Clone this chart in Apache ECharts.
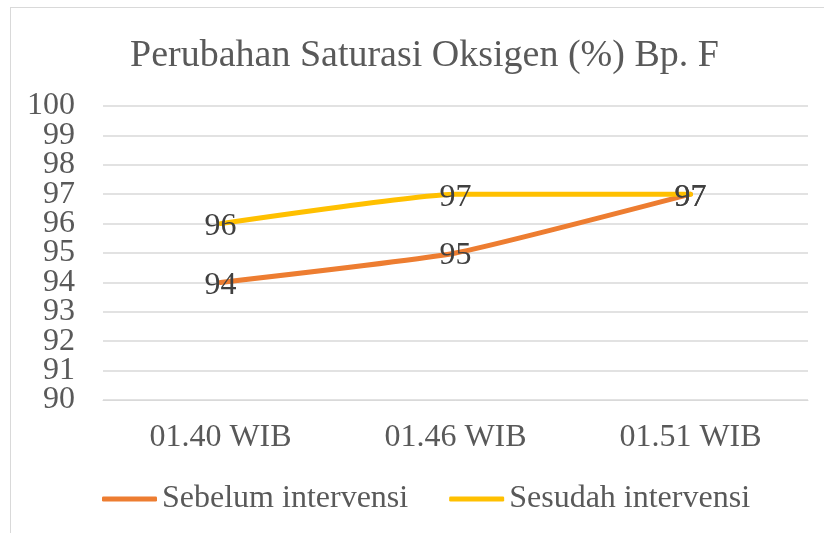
<!DOCTYPE html>
<html lang="en">
<head>
    <meta charset="UTF-8">
    <title>Perubahan Saturasi Oksigen</title>
    <script src="https://cdn.jsdelivr.net/npm/echarts@6/dist/echarts.min.js"></script>
    <style>
        body { margin: 0; background: #fff; }
        #frame { position: absolute; left: 10px; top: 7px; width: 830px; height: 540px;
                 border-left: 1px solid #d9d9d9; border-top: 1px solid #d9d9d9; }
        #chart { position: absolute; left: 0; top: 0; width: 824px; height: 533px; }
    </style>
</head>
<body>
<div id="frame"></div>
<div id="chart"></div>
<script>
    var times = ['01.40 WIB', '01.46 WIB', '01.51 WIB'];
    var sebelum = [94, 95, 97];
    var sesudah = [96, 97, 97];

    var serif = '"Liberation Serif", "Times New Roman", serif';
    var myChart = echarts.init(document.getElementById('chart'));
    var labelStyle = {
        show: true,
        position: 'inside',
        offset: [0, 3],
        fontFamily: serif,
        fontSize: 32,
        color: '#404040'
    };
    // labels are 32px but ticks are ~29px apart, so even and odd labels go on two stacked axes
    function yAxisFor(parity, grid) {
        return {
            type: 'value',
            position: 'left',
            min: 90,
            max: 100,
            interval: 1,
            axisLine: { show: false },
            axisTick: { show: false },
            splitLine: { show: grid, lineStyle: { color: '#d9d9d9', width: 1.5 } },
            axisLabel: {
                margin: 28,
                fontFamily: serif,
                fontSize: 32,
                color: '#595959',
                formatter: function (v) { return v % 2 === parity ? String(v) : ''; }
            }
        };
    }
    var option = {
        animation: false,
        title: {
            text: 'Perubahan Saturasi Oksigen (%) Bp. F',
            left: 125,
            top: 32,
            textStyle: { fontFamily: serif, fontSize: 38, fontWeight: 'normal', color: '#595959' }
        },
        grid: { left: 103, right: 16, top: 106, bottom: 133 },
        legend: {
            bottom: 13,
            left: 97,
            itemWidth: 55,
            itemHeight: 5,
            itemGap: 41,
            icon: 'roundRect',
            textStyle: { fontFamily: serif, fontSize: 32, color: '#595959' },
            data: ['Sebelum intervensi', 'Sesudah intervensi']
        },
        xAxis: {
            type: 'category',
            data: times,
            axisLine: { lineStyle: { color: '#d9d9d9', width: 1 } },
            axisTick: { show: false },
            axisLabel: { fontFamily: serif, fontSize: 32, color: '#595959', margin: 22 }
        },
        yAxis: [yAxisFor(0, true), yAxisFor(1, false)],
        series: [
            {
                name: 'Sebelum intervensi',
                type: 'line',
                data: sebelum,
                smooth: 0.15,
                symbol: 'circle',
                symbolSize: 0,
                lineStyle: { color: '#ED7D31', width: 5, cap: 'round' },
                itemStyle: { color: '#ED7D31' },
                label: labelStyle
            },
            {
                name: 'Sesudah intervensi',
                type: 'line',
                data: sesudah,
                smooth: 0.15,
                symbol: 'circle',
                symbolSize: 0,
                lineStyle: { color: '#FFC000', width: 5, cap: 'round' },
                itemStyle: { color: '#FFC000' },
                label: labelStyle
            }
        ]
    };
    myChart.setOption(option);
</script>
</body>
</html>
